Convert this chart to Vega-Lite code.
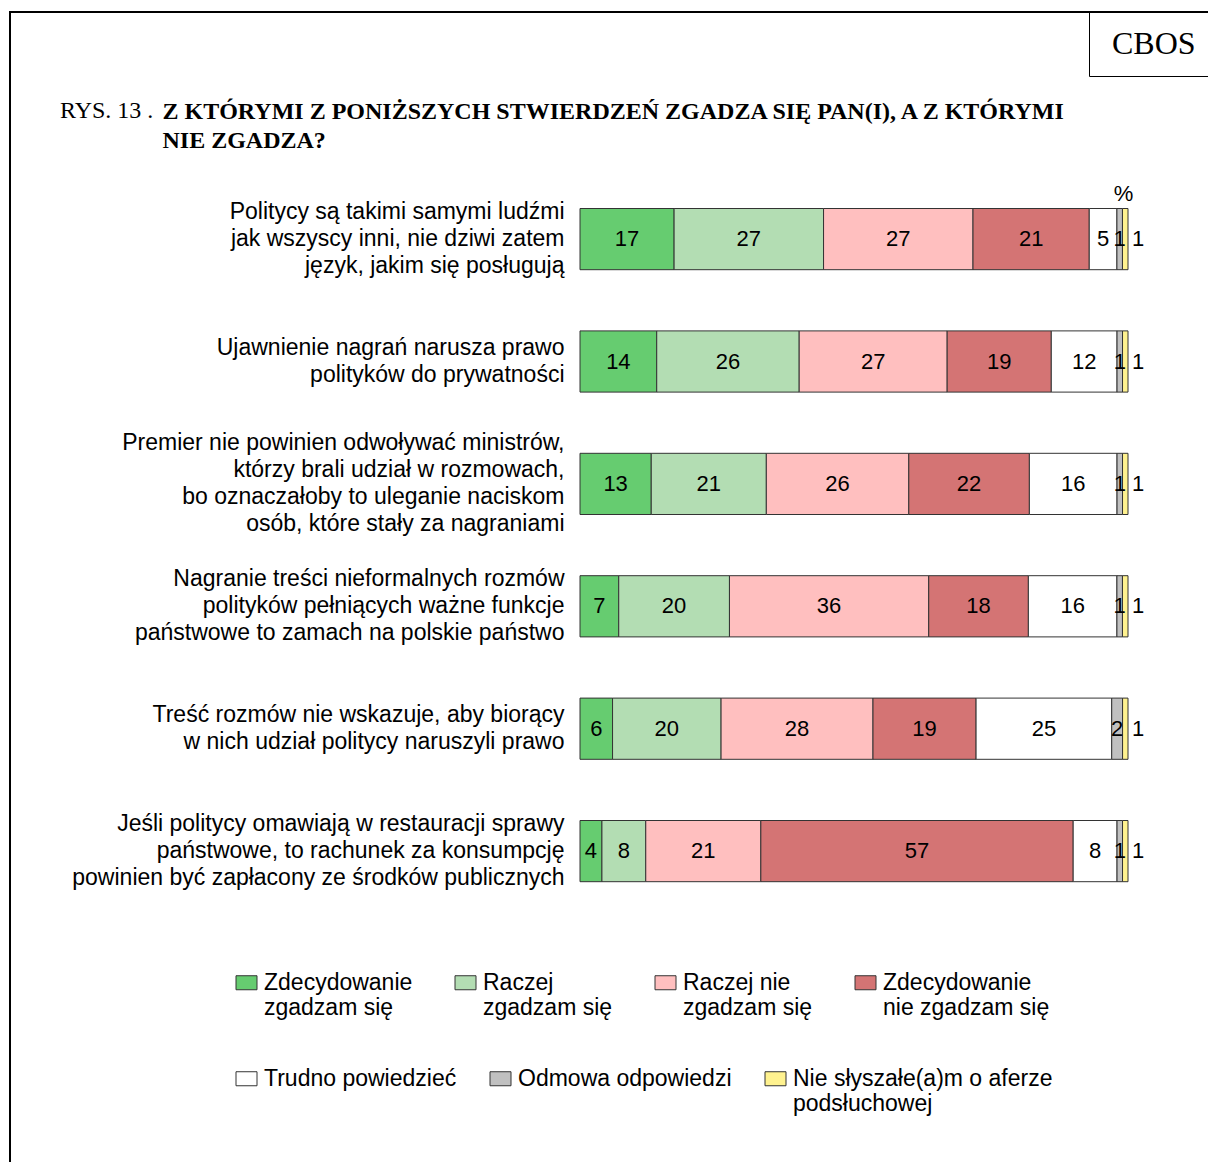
{
  "$schema": "https://vega.github.io/schema/vega-lite/v6.json",
  "width": 1202,
  "height": 1154,
  "autosize": {"type": "none"},
  "padding": {"left": 10, "top": 12, "right": -4, "bottom": -4},
  "background": "white",
  "title": {"text": "RYS. 13 .", "anchor": "start", "frame": "group", "orient": "top", "dx": 50, "dy": 130, "offset": 0, "baseline": "alphabetic", "font": "Liberation Serif", "fontSize": 24, "fontWeight": "normal", "color": "black"},
  "config": {"view": {"stroke": "black", "strokeWidth": 2}, "font": "Liberation Sans"},
  "layer": [
    {
      "data": {"values": [
        {"q": "Politycy są takimi samymi ludźmi|jak wszyscy inni, nie dziwi zatem|język, jakim się posługują", "k": 1, "cat": "Zdecydowanie|zgadzam się", "v": 17},
        {"q": "Politycy są takimi samymi ludźmi|jak wszyscy inni, nie dziwi zatem|język, jakim się posługują", "k": 2, "cat": "Raczej|zgadzam się", "v": 27},
        {"q": "Politycy są takimi samymi ludźmi|jak wszyscy inni, nie dziwi zatem|język, jakim się posługują", "k": 3, "cat": "Raczej nie|zgadzam się", "v": 27},
        {"q": "Politycy są takimi samymi ludźmi|jak wszyscy inni, nie dziwi zatem|język, jakim się posługują", "k": 4, "cat": "Zdecydowanie|nie zgadzam się", "v": 21},
        {"q": "Politycy są takimi samymi ludźmi|jak wszyscy inni, nie dziwi zatem|język, jakim się posługują", "k": 5, "cat": "Trudno powiedzieć", "v": 5},
        {"q": "Politycy są takimi samymi ludźmi|jak wszyscy inni, nie dziwi zatem|język, jakim się posługują", "k": 6, "cat": "Odmowa odpowiedzi", "v": 1},
        {"q": "Politycy są takimi samymi ludźmi|jak wszyscy inni, nie dziwi zatem|język, jakim się posługują", "k": 7, "cat": "Nie słyszałe(a)m o aferze|podsłuchowej", "v": 1},
        {"q": "Ujawnienie nagrań narusza prawo|polityków  do prywatności", "k": 1, "cat": "Zdecydowanie|zgadzam się", "v": 14},
        {"q": "Ujawnienie nagrań narusza prawo|polityków  do prywatności", "k": 2, "cat": "Raczej|zgadzam się", "v": 26},
        {"q": "Ujawnienie nagrań narusza prawo|polityków  do prywatności", "k": 3, "cat": "Raczej nie|zgadzam się", "v": 27},
        {"q": "Ujawnienie nagrań narusza prawo|polityków  do prywatności", "k": 4, "cat": "Zdecydowanie|nie zgadzam się", "v": 19},
        {"q": "Ujawnienie nagrań narusza prawo|polityków  do prywatności", "k": 5, "cat": "Trudno powiedzieć", "v": 12},
        {"q": "Ujawnienie nagrań narusza prawo|polityków  do prywatności", "k": 6, "cat": "Odmowa odpowiedzi", "v": 1},
        {"q": "Ujawnienie nagrań narusza prawo|polityków  do prywatności", "k": 7, "cat": "Nie słyszałe(a)m o aferze|podsłuchowej", "v": 1},
        {"q": "Premier nie powinien odwoływać ministrów,|którzy brali udział w rozmowach,|bo oznaczałoby to uleganie naciskom|osób, które stały za nagraniami", "k": 1, "cat": "Zdecydowanie|zgadzam się", "v": 13},
        {"q": "Premier nie powinien odwoływać ministrów,|którzy brali udział w rozmowach,|bo oznaczałoby to uleganie naciskom|osób, które stały za nagraniami", "k": 2, "cat": "Raczej|zgadzam się", "v": 21},
        {"q": "Premier nie powinien odwoływać ministrów,|którzy brali udział w rozmowach,|bo oznaczałoby to uleganie naciskom|osób, które stały za nagraniami", "k": 3, "cat": "Raczej nie|zgadzam się", "v": 26},
        {"q": "Premier nie powinien odwoływać ministrów,|którzy brali udział w rozmowach,|bo oznaczałoby to uleganie naciskom|osób, które stały za nagraniami", "k": 4, "cat": "Zdecydowanie|nie zgadzam się", "v": 22},
        {"q": "Premier nie powinien odwoływać ministrów,|którzy brali udział w rozmowach,|bo oznaczałoby to uleganie naciskom|osób, które stały za nagraniami", "k": 5, "cat": "Trudno powiedzieć", "v": 16},
        {"q": "Premier nie powinien odwoływać ministrów,|którzy brali udział w rozmowach,|bo oznaczałoby to uleganie naciskom|osób, które stały za nagraniami", "k": 6, "cat": "Odmowa odpowiedzi", "v": 1},
        {"q": "Premier nie powinien odwoływać ministrów,|którzy brali udział w rozmowach,|bo oznaczałoby to uleganie naciskom|osób, które stały za nagraniami", "k": 7, "cat": "Nie słyszałe(a)m o aferze|podsłuchowej", "v": 1},
        {"q": "Nagranie treści nieformalnych rozmów|polityków pełniących ważne funkcje|państwowe to zamach na polskie państwo", "k": 1, "cat": "Zdecydowanie|zgadzam się", "v": 7},
        {"q": "Nagranie treści nieformalnych rozmów|polityków pełniących ważne funkcje|państwowe to zamach na polskie państwo", "k": 2, "cat": "Raczej|zgadzam się", "v": 20},
        {"q": "Nagranie treści nieformalnych rozmów|polityków pełniących ważne funkcje|państwowe to zamach na polskie państwo", "k": 3, "cat": "Raczej nie|zgadzam się", "v": 36},
        {"q": "Nagranie treści nieformalnych rozmów|polityków pełniących ważne funkcje|państwowe to zamach na polskie państwo", "k": 4, "cat": "Zdecydowanie|nie zgadzam się", "v": 18},
        {"q": "Nagranie treści nieformalnych rozmów|polityków pełniących ważne funkcje|państwowe to zamach na polskie państwo", "k": 5, "cat": "Trudno powiedzieć", "v": 16},
        {"q": "Nagranie treści nieformalnych rozmów|polityków pełniących ważne funkcje|państwowe to zamach na polskie państwo", "k": 6, "cat": "Odmowa odpowiedzi", "v": 1},
        {"q": "Nagranie treści nieformalnych rozmów|polityków pełniących ważne funkcje|państwowe to zamach na polskie państwo", "k": 7, "cat": "Nie słyszałe(a)m o aferze|podsłuchowej", "v": 1},
        {"q": "Treść rozmów nie wskazuje, aby biorący|w nich udział politycy naruszyli prawo", "k": 1, "cat": "Zdecydowanie|zgadzam się", "v": 6},
        {"q": "Treść rozmów nie wskazuje, aby biorący|w nich udział politycy naruszyli prawo", "k": 2, "cat": "Raczej|zgadzam się", "v": 20},
        {"q": "Treść rozmów nie wskazuje, aby biorący|w nich udział politycy naruszyli prawo", "k": 3, "cat": "Raczej nie|zgadzam się", "v": 28},
        {"q": "Treść rozmów nie wskazuje, aby biorący|w nich udział politycy naruszyli prawo", "k": 4, "cat": "Zdecydowanie|nie zgadzam się", "v": 19},
        {"q": "Treść rozmów nie wskazuje, aby biorący|w nich udział politycy naruszyli prawo", "k": 5, "cat": "Trudno powiedzieć", "v": 25},
        {"q": "Treść rozmów nie wskazuje, aby biorący|w nich udział politycy naruszyli prawo", "k": 6, "cat": "Odmowa odpowiedzi", "v": 2},
        {"q": "Treść rozmów nie wskazuje, aby biorący|w nich udział politycy naruszyli prawo", "k": 7, "cat": "Nie słyszałe(a)m o aferze|podsłuchowej", "v": 1},
        {"q": "Jeśli politycy omawiają w restauracji  sprawy|państwowe, to rachunek za konsumpcję|powinien być zapłacony ze środków publicznych", "k": 1, "cat": "Zdecydowanie|zgadzam się", "v": 4},
        {"q": "Jeśli politycy omawiają w restauracji  sprawy|państwowe, to rachunek za konsumpcję|powinien być zapłacony ze środków publicznych", "k": 2, "cat": "Raczej|zgadzam się", "v": 8},
        {"q": "Jeśli politycy omawiają w restauracji  sprawy|państwowe, to rachunek za konsumpcję|powinien być zapłacony ze środków publicznych", "k": 3, "cat": "Raczej nie|zgadzam się", "v": 21},
        {"q": "Jeśli politycy omawiają w restauracji  sprawy|państwowe, to rachunek za konsumpcję|powinien być zapłacony ze środków publicznych", "k": 4, "cat": "Zdecydowanie|nie zgadzam się", "v": 57},
        {"q": "Jeśli politycy omawiają w restauracji  sprawy|państwowe, to rachunek za konsumpcję|powinien być zapłacony ze środków publicznych", "k": 5, "cat": "Trudno powiedzieć", "v": 8},
        {"q": "Jeśli politycy omawiają w restauracji  sprawy|państwowe, to rachunek za konsumpcję|powinien być zapłacony ze środków publicznych", "k": 6, "cat": "Odmowa odpowiedzi", "v": 1},
        {"q": "Jeśli politycy omawiają w restauracji  sprawy|państwowe, to rachunek za konsumpcję|powinien być zapłacony ze środków publicznych", "k": 7, "cat": "Nie słyszałe(a)m o aferze|podsłuchowej", "v": 1}
      ]},
      "transform": [
        {"stack": "v", "groupby": ["q"], "sort": [{"field": "k", "order": "ascending"}], "offset": "normalize", "as": ["x0", "x1"]},
        {"calculate": "(datum.x0 + datum.x1) / 2", "as": "xm"}
      ],
      "encoding": {
        "y": {
          "field": "q", "type": "nominal", "sort": null,
          "scale": {"range": [196.5, 869.7], "paddingInner": 0.5, "paddingOuter": 0},
          "axis": {
            "orient": "left", "offset": -564, "domain": false, "ticks": false, "grid": false,
            "labelExpr": "split(datum.label, '|')", "labelFont": "Liberation Sans", "labelFontSize": 23,
            "labelColor": "black", "labelLineHeight": 27, "labelPadding": 10, "labelLimit": 0,
            "labelAlign": "right", "labelBaseline": "middle", "labelOverlap": false,
            "labelOffset": {"condition": [
              {"test": "length(split(datum.value, '|')) == 4", "value": -40.5},
              {"test": "length(split(datum.value, '|')) == 3", "value": -27}
            ], "value": -13.5},
            "title": ["Z KTÓRYMI Z PONIŻSZYCH STWIERDZEŃ ZGADZA SIĘ PAN(I), A Z KTÓRYMI", "NIE ZGADZA?"],
            "titleAngle": 0, "titleAlign": "left", "titleBaseline": "alphabetic", "titleX": -412, "titleY": 106,
            "titleFont": "Liberation Serif", "titleFontSize": 24, "titleFontWeight": "bold", "titleLineHeight": 29,
            "titleLimit": 0, "titleColor": "black"
          }
        }
      },
      "layer": [
        {
          "transform": [{"filter": "datum.k <= 4"}],
          "mark": {"type": "bar", "stroke": "#333333", "strokeWidth": 1},
          "encoding": {
            "x": {
              "field": "x0", "type": "quantitative",
              "scale": {"domain": [-1.04015, 1.15328], "nice": false, "zero": false},
              "axis": {"orient": "top", "title": "%", "domain": false, "ticks": false, "labels": false, "grid": false,
                "titleX": 1113, "titleY": 181, "titleAlign": "center", "titleBaseline": "middle", "titleAngle": 0,
                "titleFont": "Liberation Sans", "titleFontSize": 22, "titleFontWeight": "normal", "titleColor": "black"}
            },
            "x2": {"field": "x1"},
            "color": {
              "field": "cat", "type": "nominal",
              "scale": {"domain": ["Zdecydowanie|zgadzam się", "Raczej|zgadzam się", "Raczej nie|zgadzam się", "Zdecydowanie|nie zgadzam się"],
                        "range": ["#66CC70", "#B3DDB3", "#FFBFBF", "#D47474"]},
              "legend": {"orient": "none", "legendX": 225, "legendY": 959, "title": null, "columns": 4, "columnPadding": 40,
                "labelExpr": "split(datum.label, '|')", "labelFont": "Liberation Sans", "labelFontSize": 23, "labelColor": "black",
                "labelLineHeight": 26, "labelOffset": 6, "labelLimit": 0, "padding": 0,
                "symbolType": "M-1,-0.667L1,-0.667L1,0.667L-1,0.667Z", "symbolSize": 441, "symbolStrokeColor": "#333333", "symbolStrokeWidth": 1}
            }
          }
        },
        {
          "transform": [{"filter": "datum.k >= 5"}],
          "mark": {"type": "bar", "stroke": "#333333", "strokeWidth": 1},
          "encoding": {
            "x": {"field": "x0", "type": "quantitative"},
            "x2": {"field": "x1"},
            "fill": {
              "field": "cat", "type": "nominal",
              "scale": {"domain": ["Trudno powiedzieć", "Odmowa odpowiedzi", "Nie słyszałe(a)m o aferze|podsłuchowej"],
                        "range": ["#FFFFFF", "#C0C0C0", "#FFF28F"]},
              "legend": {"orient": "none", "legendX": 225, "legendY": 1055, "title": null, "columns": 3, "columnPadding": 31,
                "labelExpr": "indexof(datum.label, '|') < 0 ? [datum.label, ' '] : split(datum.label, '|')", "labelFont": "Liberation Sans", "labelFontSize": 23, "labelColor": "black",
                "labelLineHeight": 26, "labelOffset": 6, "labelLimit": 0, "padding": 0,
                "symbolType": "M-1,-0.667L1,-0.667L1,0.667L-1,0.667Z", "symbolSize": 441, "symbolStrokeColor": "#333333", "symbolStrokeWidth": 1}
            }
          }
        },
        {
          "transform": [{"filter": "datum.k <= 6"}],
          "mark": {"type": "text", "font": "Liberation Sans", "fontSize": 22, "color": "black", "align": "center", "baseline": "middle"},
          "encoding": {
            "x": {"field": "xm", "type": "quantitative"},
            "text": {"field": "v", "type": "quantitative"}
          }
        },
        {
          "transform": [{"filter": "datum.k == 7"}],
          "mark": {"type": "text", "font": "Liberation Sans", "fontSize": 22, "color": "black", "align": "left", "baseline": "middle", "dx": 4},
          "encoding": {
            "x": {"field": "x1", "type": "quantitative"},
            "text": {"field": "v", "type": "quantitative"}
          }
        }
      ]
    },
    {
      "data": {"values": [{"source": "CBOS"}]},
      "mark": {"type": "point", "opacity": 0},
      "encoding": {
        "shape": {
          "field": "source", "type": "nominal",
          "legend": {"orient": "none", "legendX": 1079, "legendY": 0, "title": null, "strokeColor": "black",
            "padding": 16, "labelFont": "Liberation Serif", "labelFontSize": 32, "labelColor": "black", "labelOffset": -25,
            "labelLimit": 0, "symbolSize": 1, "symbolOpacity": 0, "symbolStrokeWidth": 0}
        }
      }
    }
  ]
}
